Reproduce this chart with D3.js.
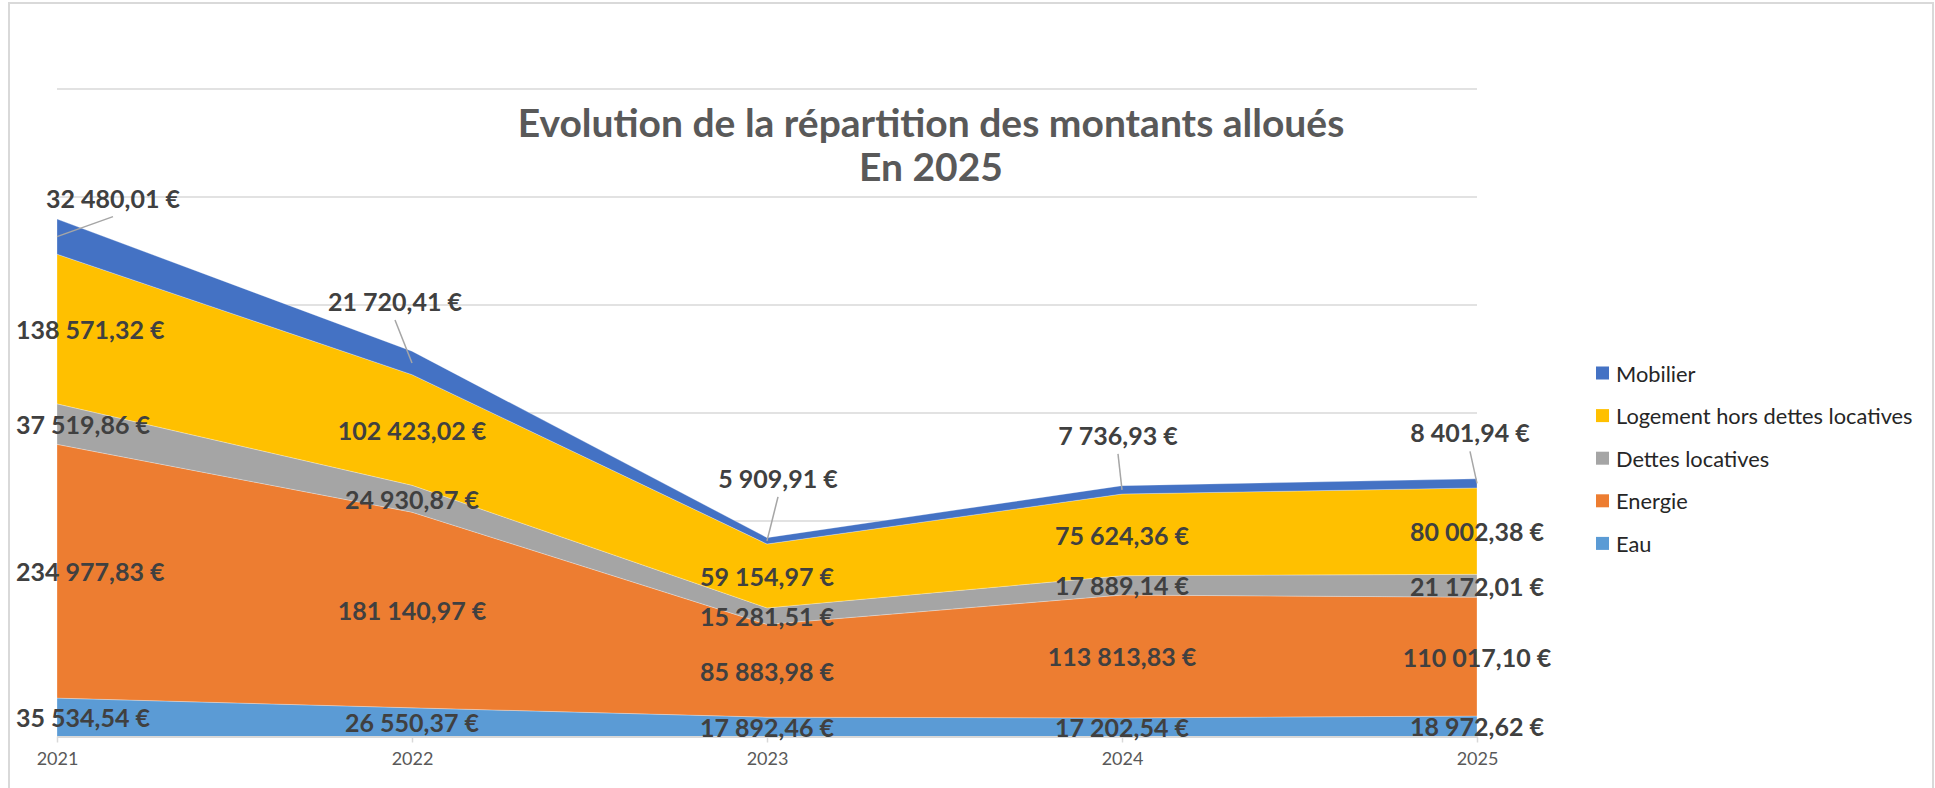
<!DOCTYPE html>
<html>
<head>
<meta charset="utf-8">
<script src="https://cdn.jsdelivr.net/npm/d3@7"></script>
<style>
  body { margin: 0; background: #fff; }
  svg { display: block; font-family: Lato, "Open Sans", sans-serif; }
</style>
</head>
<body>
<script>
let years = ["2021", "2022", "2023", "2024", "2025"];
let eau = [35534.54, 26550.37, 17892.46, 17202.54, 18972.62];
let energie = [234977.83, 181140.97, 85883.98, 113813.83, 110017.10];
let dettes = [37519.86, 24930.87, 15281.51, 17889.14, 21172.01];
let logement = [138571.32, 102423.02, 59154.97, 75624.36, 80002.38];
let mobilier = [32480.01, 21720.41, 5909.91, 7736.93, 8401.94];
let yTicks = [0, 100000, 200000, 300000, 400000, 500000, 600000];

let seriesNames = ["Eau", "Energie", "Dettes locatives", "Logement hors dettes locatives", "Mobilier"];
let seriesValues = [eau, energie, dettes, logement, mobilier];
let colors = ["#5B9BD5", "#ED7D31", "#A5A5A5", "#FFC000", "#4472C4"];

// Mobilier labels are pulled up with leader lines
let mobilierOffsets = [[56, -39], [-17, -62], [11, -63], [-4, -55], [-7, -51]];

let svgWidth = 1935,
    svgHeight = 788,
    plot = { left: 57, right: 1477, top: 88.5, bottom: 736.5 };

let fmt = d3.formatLocale({ decimal: ",", thousands: " ", grouping: [3], currency: ["", " €"] }).format("$,.2f");

let rows = years.map((y, i) => {
    let r = { year: y };
    seriesNames.forEach((n, k) => r[n] = seriesValues[k][i]);
    return r;
});

let stacked = d3.stack().keys(seriesNames)(rows);

let x = d3.scalePoint().domain(years).range([plot.left, plot.right]);
let y = d3.scaleLinear().domain([0, 600000]).range([plot.bottom, plot.top]);

let svg = d3.select("body").append("svg")
    .attr("width", svgWidth)
    .attr("height", svgHeight);

// chart border
svg.append("rect")
    .attr("x", 9).attr("y", 3)
    .attr("width", 1924).attr("height", 800)
    .attr("fill", "none")
    .attr("stroke", "#d9d9d9")
    .attr("stroke-width", 2);

// gridlines
svg.append("g")
    .attr("transform", "translate(" + plot.left + ",0)")
    .call(d3.axisLeft(y).tickValues(yTicks).tickSize(-(plot.right - plot.left)).tickFormat(""))
    .call(g => g.select(".domain").remove())
    .call(g => g.selectAll("line").attr("stroke", "#d9d9d9").attr("stroke-width", 1.5));

// areas
let area = d3.area()
    .x(d => x(d.data.year))
    .y0(d => y(d[0]))
    .y1(d => y(d[1]));

svg.append("g").selectAll("path")
    .data(stacked)
    .join("path")
    .attr("d", area)
    .attr("fill", (d, i) => colors[i])
    .attr("stroke", "rgba(255,255,255,0.35)")
    .attr("stroke-width", 0.8);

// x axis
svg.append("g")
    .attr("transform", "translate(0," + plot.bottom + ")")
    .call(d3.axisBottom(x).tickSize(6).tickSizeOuter(0).tickPadding(10))
    .call(g => g.select(".domain").attr("stroke", "#d9d9d9").attr("stroke-width", 2))
    .call(g => g.selectAll("line").attr("stroke", "#d9d9d9").attr("stroke-width", 1.5))
    .call(g => g.selectAll("text")
        .attr("fill", "#595959")
        .attr("font-size", "18px")
        .attr("font-family", "Lato, sans-serif"));

// data labels
let labels = svg.append("g")
    .attr("font-size", "25px")
    .attr("font-weight", "bold")
    .attr("fill", "#404040");

stacked.forEach((layer, k) => {
    layer.forEach((d, i) => {
        let px = x(d.data.year);
        let py = y((d[0] + d[1]) / 2);
        let txt = fmt(d.data[layer.key]);
        if (layer.key === "Mobilier") {
            let lx = px + mobilierOffsets[i][0];
            let ly = py + mobilierOffsets[i][1];
            svg.append("line")
                .attr("x1", px).attr("y1", py)
                .attr("x2", lx).attr("y2", ly + 19)
                .attr("stroke", "#a6a6a6")
                .attr("stroke-width", 1.5);
            labels.append("text")
                .attr("x", lx).attr("y", ly)
                .attr("text-anchor", "middle")
                .attr("dominant-baseline", "central")
                .text(txt);
        } else {
            let t = labels.append("text")
                .attr("x", px).attr("y", py)
                .attr("text-anchor", "middle")
                .attr("dominant-baseline", "central")
                .text(txt);
            let w = t.node().getComputedTextLength();
            if (px - w / 2 < 16) t.attr("x", 16 + w / 2);
        }
    });
});

// title
let title = svg.append("text")
    .attr("x", 931)
    .attr("text-anchor", "middle")
    .attr("font-size", "39px")
    .attr("font-weight", "bold")
    .attr("fill", "#595959");
title.append("tspan").attr("x", 931).attr("y", 137).text("Evolution de la répartition des montants alloués");
title.append("tspan").attr("x", 931).attr("y", 181).text("En 2025");

// legend (top to bottom: Mobilier ... Eau)
let legend = svg.append("g").attr("transform", "translate(1596,373)");
seriesNames.slice().reverse().forEach((n, i) => {
    let g = legend.append("g").attr("transform", "translate(0," + (i * 42.6) + ")");
    g.append("rect")
        .attr("x", 0).attr("y", -6.5)
        .attr("width", 13).attr("height", 13)
        .attr("fill", colors[colors.length - 1 - i]);
    g.append("text")
        .attr("x", 20).attr("y", 0)
        .attr("dominant-baseline", "central")
        .attr("font-size", "21.8px")
        .attr("fill", "#262626")
        .text(n);
});
</script>
</body>
</html>
